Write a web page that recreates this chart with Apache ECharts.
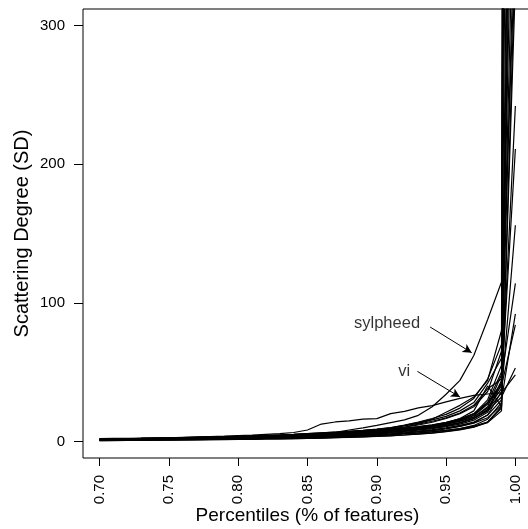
<!DOCTYPE html>
<html>
<head>
<meta charset="utf-8">
<script src="https://cdn.jsdelivr.net/npm/echarts@6/dist/echarts.min.js"></script>
<style>
html,body{margin:0;padding:0;background:#fff;}
#chart{width:528px;height:529px;}
</style>
</head>
<body>
<div id="chart"></div>
<script>
// Percentiles (x values)
const percentiles = [0.70,0.71,0.72,0.73,0.74,0.75,0.76,0.77,0.78,0.79,0.80,0.81,0.82,0.83,0.84,0.85,0.86,0.87,0.88,0.89,0.90,0.91,0.92,0.93,0.94,0.95,0.96,0.97,0.98,0.99,1.00];

const xTicks = [0.70,0.75,0.80,0.85,0.90,0.95,1.00];
const yTicks = [0,100,200,300];

// Scattering degree per project
const vi       = [1.6,1.8,2.0,2.2,2.4,2.6,2.9,3.2,3.5,3.8,4.2,4.6,5.1,5.6,6.4,8.2,12.5,14.0,14.8,16.0,16.4,20.0,21.6,24.2,25.8,28.5,31.0,33.2,34.2,35.0,48];
const sylpheed = [1.0,1.1,1.2,1.3,1.4,1.5,1.6,1.8,2.0,2.2,2.4,2.7,3.0,3.4,3.8,4.5,5.5,6.5,8.2,9.8,11.5,13.5,15.5,18.8,25.0,34.0,44.0,62.0,88.0,115,2500];
const s03 = [0.8,0.9,1.0,1.1,1.2,1.3,1.4,1.5,1.6,1.7,1.8,1.9,2.1,2.3,2.5,2.7,3.0,3.3,3.6,4.0,4.4,4.9,5.5,6.2,7.0,8.0,9.3,11.0,14.0,24,700];
const s04 = [1.2,1.3,1.4,1.5,1.6,1.8,1.9,2.1,2.3,2.5,2.7,3.0,3.3,3.6,3.9,4.3,4.7,5.1,5.6,6.2,6.9,7.7,8.6,9.7,11.0,12.6,14.6,17.5,24,38,242];
const s05 = [0.6,0.7,0.8,0.9,1.0,1.0,1.1,1.2,1.3,1.4,1.5,1.6,1.7,1.8,2.0,2.2,2.4,2.6,2.9,3.2,3.6,4.0,4.6,5.3,6.1,7.2,8.6,10.5,13.5,22,4000];
const s06 = [1.5,1.6,1.7,1.9,2.0,2.2,2.4,2.6,2.8,3.0,3.3,3.6,3.9,4.2,4.6,5.0,5.4,5.9,6.4,7.0,7.7,8.5,9.4,10.5,11.8,13.5,16.0,20,28,42,211];
const s07 = [1.0,1.1,1.2,1.3,1.4,1.5,1.7,1.8,2.0,2.2,2.4,2.6,2.8,3.1,3.4,3.7,4.1,4.5,5.0,5.5,6.1,6.8,7.6,8.6,9.8,11.3,13.4,16.5,23,35,156];
const s08 = [1.8,1.9,2.0,2.1,2.3,2.4,2.6,2.8,3.0,3.2,3.5,3.8,4.1,4.4,4.8,5.2,5.7,6.2,6.8,7.4,8.1,9.0,10.3,12.5,14.5,17.0,20.5,26,38,45,114];
const s09 = [0.9,1.0,1.1,1.2,1.3,1.4,1.5,1.6,1.8,1.9,2.1,2.3,2.5,2.7,3.0,3.3,3.6,4.0,4.4,4.9,5.4,6.0,6.7,7.5,8.5,9.8,11.5,14.0,19,30,92];
const s10 = [1.3,1.4,1.5,1.6,1.7,1.9,2.0,2.2,2.4,2.6,2.8,3.1,3.4,3.7,4.0,4.4,4.8,5.3,5.8,6.4,7.1,7.9,8.8,9.9,11.2,12.9,15.2,18.5,27,40,84];
const s11 = [1.1,1.2,1.3,1.4,1.5,1.6,1.8,1.9,2.1,2.3,2.5,2.7,3.0,3.3,3.6,3.9,4.3,4.7,5.2,5.7,6.3,7.0,7.8,8.8,10.0,11.5,13.5,16.5,22,32,53];
const s12 = [1.4,1.5,1.6,1.8,1.9,2.1,2.3,2.5,2.7,2.9,3.2,3.5,3.8,4.1,4.5,4.9,5.3,5.8,6.4,7.0,7.7,8.5,9.5,10.6,12.0,13.8,16.2,19.8,30,55,3000];
const s13 = [0.7,0.8,0.9,0.9,1.0,1.1,1.2,1.3,1.4,1.5,1.6,1.8,1.9,2.1,2.3,2.5,2.8,3.1,3.4,3.8,4.2,4.7,5.3,6.0,6.8,7.9,9.3,11.5,16,28,800];
const s14 = [1.6,1.7,1.8,2.0,2.1,2.3,2.5,2.7,2.9,3.2,3.5,3.8,4.1,4.5,4.9,5.3,5.8,6.4,7.0,7.7,8.5,9.6,11.2,13.0,15.5,18.0,22.0,28,42,60,520];
const s15 = [1.2,1.3,1.4,1.5,1.6,1.7,1.9,2.0,2.2,2.4,2.6,2.9,3.1,3.4,3.8,4.1,4.5,5.0,5.5,6.1,6.8,7.5,8.4,9.4,10.7,12.3,14.5,17.5,25,48,600];
const s16 = [0.9,1.0,1.0,1.1,1.2,1.3,1.4,1.5,1.6,1.8,1.9,2.1,2.3,2.5,2.7,3.0,3.3,3.6,4.0,4.4,4.9,5.5,6.2,7.0,8.0,9.3,11.0,13.5,19,36,2000];
const s17 = [2.0,2.1,2.2,2.3,2.5,2.6,2.8,3.0,3.2,3.4,3.7,4.0,4.3,4.6,5.0,5.6,6.1,6.6,7.2,7.8,8.6,9.8,11.8,14.0,16.5,19.5,24.0,31,45,70,7000];
const s18 = [1.0,1.1,1.2,1.3,1.4,1.5,1.6,1.7,1.9,2.1,2.3,2.5,2.7,3.0,3.3,3.6,3.9,4.3,4.7,5.2,5.8,6.4,7.2,8.1,9.2,10.6,12.5,15.3,21,42,400];
const s19 = [1.5,1.6,1.7,1.8,2.0,2.1,2.3,2.5,2.7,3.0,3.2,3.5,3.8,4.2,4.5,4.9,5.4,5.9,6.5,7.1,7.8,8.8,10.2,11.8,13.8,16.5,20.0,25,36,65,1200];
const s20 = [0.8,0.9,1.0,1.1,1.2,1.2,1.3,1.4,1.5,1.7,1.8,2.0,2.2,2.4,2.6,2.9,3.2,3.5,3.9,4.3,4.8,5.3,6.0,6.8,7.8,9.0,10.8,13.2,17,26,350];
const s21 = [1.7,1.8,1.9,2.1,2.2,2.4,2.6,2.8,3.0,3.3,3.6,3.9,4.2,4.6,5.0,5.6,6.1,6.6,7.3,8.0,8.8,9.9,11.6,13.5,16.0,21.0,26.0,32,44,80,360];
const s22 = [1.1,1.2,1.3,1.4,1.5,1.6,1.7,1.9,2.0,2.2,2.4,2.6,2.9,3.2,3.5,3.8,4.2,4.6,5.1,5.6,6.2,6.9,7.7,8.7,9.9,11.4,13.4,16.4,23,44,900];
const s23 = [1.3,1.4,1.5,1.6,1.8,1.9,2.1,2.3,2.5,2.7,2.9,3.2,3.5,3.8,4.2,4.6,5.0,5.5,6.0,6.6,7.3,8.1,9.0,10.1,11.4,13.1,15.5,19.0,28,50,450];
const s24 = [0.5,0.6,0.7,0.8,0.9,1.0,1.0,1.1,1.2,1.3,1.4,1.5,1.7,1.8,2.0,2.2,2.4,2.7,3.0,3.3,3.7,4.1,4.6,5.2,6.0,7.0,8.3,10.2,14,25,2500];
const s25 = [1.4,1.5,1.6,1.7,1.9,2.0,2.2,2.4,2.6,2.8,3.0,3.3,3.6,3.9,4.3,4.7,5.1,5.6,6.2,6.8,7.5,8.3,9.2,10.3,11.6,13.4,16.5,22,40,25,330];

const projects = {vi, sylpheed, s03, s04, s05, s06, s07, s08, s09, s10, s11, s12, s13, s14, s15, s16, s17, s18, s19, s20, s21, s22, s23, s24, s25};

// annotations (data coordinates)
const labelNames = ['sylpheed','vi'];
const labelPos   = [[0.9074, 85.0],[0.9197, 50.5]];
const arrowFrom  = [[0.9385, 82.5],[0.9293, 50.5]];
const arrowTo    = [[0.9685, 64.0],[0.9600, 32.0]];

const FONT = "'Liberation Sans', Arial, Helvetica, sans-serif";

const series = Object.keys(projects).map(name => ({
  name: name,
  type: 'line',
  data: percentiles.map((p, i) => [p, projects[name][i]]),
  showSymbol: false,
  symbol: 'none',
  clip: true,
  silent: true,
  lineStyle: {color: '#000', width: 1.2},
  z: 2
}));

series.push({
  type: 'scatter',
  data: labelNames.map((n, i) => ({value: labelPos[i], name: n})),
  symbolSize: 0,
  silent: true,
  label: {
    show: true, position: 'inside', formatter: '{b}',
    color: '#000', fontSize: 16.5, fontFamily: FONT
  },
  markLine: {
    silent: true,
    symbol: ['none', 'arrow'],
    symbolSize: [7, 9],
    label: {show: false},
    lineStyle: {color: '#000', width: 1, type: 'solid'},
    data: arrowFrom.map((f, i) => [{coord: f}, {coord: arrowTo[i]}])
  },
  z: 5
});

const chart = echarts.init(document.getElementById('chart'), null, {renderer: 'canvas'});
chart.setOption({
  animation: false,
  backgroundColor: '#fff',
  grid: {
    left: 83, top: 9, width: 449, height: 449,
    show: true, borderColor: '#000', borderWidth: 1, backgroundColor: 'transparent',
    containLabel: false,
    outerBoundsMode: 'none'
  },
  xAxis: {
    type: 'value', min: 0.688, max: 1.012,
    axisLine: {show: false, onZero: false},
    splitLine: {show: false},
    axisTick: {show: true, length: 8, lineStyle: {color: '#000', width: 1}, customValues: xTicks},
    axisLabel: {
      show: true, rotate: 90, margin: 17, color: '#000', fontSize: 15, fontFamily: FONT,
      customValues: xTicks,
      formatter: v => v.toFixed(2)
    },
    name: 'Percentiles (% of features)',
    nameLocation: 'middle', nameGap: 48, nameMoveOverlap: false,
    nameTextStyle: {color: '#000', fontSize: 19, fontFamily: FONT}
  },
  yAxis: {
    type: 'value', min: -12, max: 312,
    axisLine: {show: false, onZero: false},
    splitLine: {show: false},
    axisTick: {show: true, length: 9, lineStyle: {color: '#000', width: 1}, customValues: yTicks},
    axisLabel: {
      show: true, margin: 18, color: '#000', fontSize: 15, fontFamily: FONT,
      customValues: yTicks
    },
    name: 'Scattering Degree (SD)',
    nameLocation: 'middle', nameGap: 51, nameMoveOverlap: false,
    nameTextStyle: {color: '#000', fontSize: 20, fontFamily: FONT}
  },
  series: series
});
</script>
</body>
</html>
